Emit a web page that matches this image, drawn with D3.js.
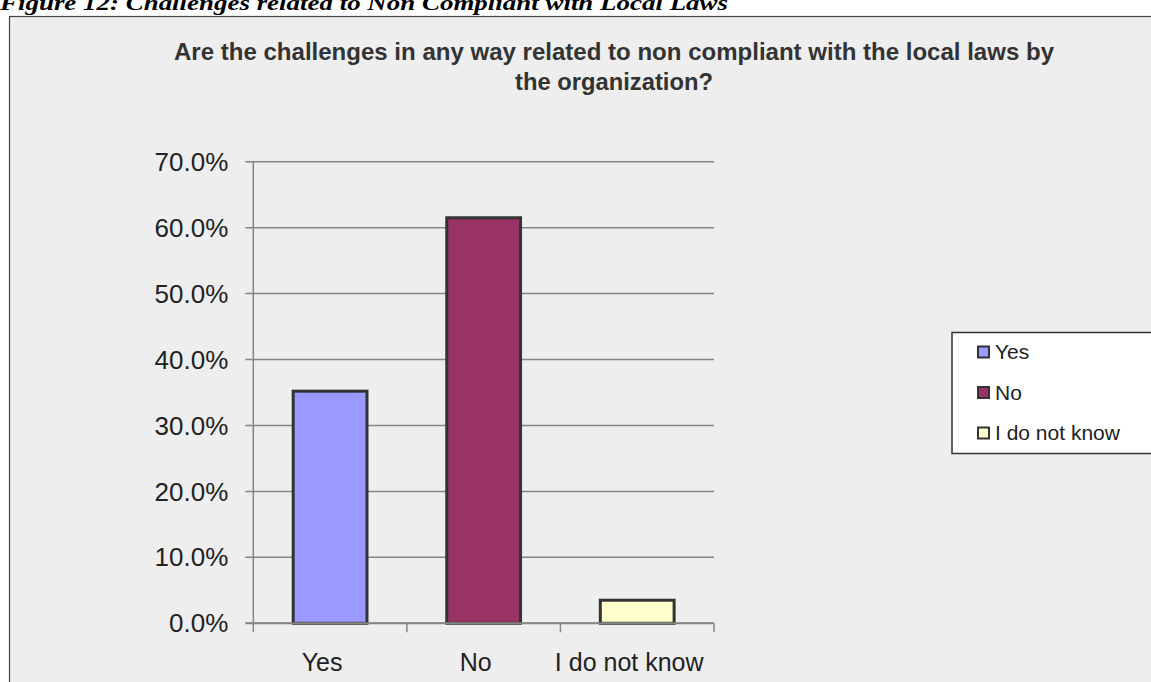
<!DOCTYPE html>
<html>
<head>
<meta charset="utf-8">
<script src="https://cdn.jsdelivr.net/npm/d3@7"></script>
<style>
  html, body { margin: 0; padding: 0; background: #ffffff; }
  svg { display: block; }
  text { font-family: "Liberation Sans", Arial, sans-serif; }
  text.caption { font-family: "Liberation Serif", "Times New Roman", serif; }
</style>
</head>
<body>
<svg id="chart" width="1151" height="682"></svg>
<script>
// Survey answers and their shares of respondents
const categories = ["Yes", "No", "I do not know"];
const shares = [0.352, 0.615, 0.035];
const barColors = ["#9999ff", "#993366", "#ffffcc"];
const yTicks = [0, 0.1, 0.2, 0.3, 0.4, 0.5, 0.6, 0.7];
const titleLines = [
  "Are the challenges in any way related to non compliant with the local laws by",
  "the organization?"
];
const caption = "Figure 12: Challenges related to Non Compliant with Local Laws";

const svg = d3.select("#chart");

// Document caption, running off the top of the page
svg.append("text")
  .attr("class", "caption")
  .attr("x", 0)
  .attr("y", 10)
  .attr("font-weight", "bold")
  .attr("font-style", "italic")
  .attr("font-size", 21)
  .attr("fill", "#000")
  .attr("textLength", 728)
  .attr("lengthAdjust", "spacingAndGlyphs")
  .text(caption);

// Chart frame
svg.append("rect")
  .attr("x", 9.5)
  .attr("y", 16.5)
  .attr("width", 1160)
  .attr("height", 700)
  .attr("fill", "#eeeeee")
  .attr("stroke", "#444")
  .attr("stroke-width", 1.2);

// Title
const titleWidths = [880, 198];
svg.append("g").selectAll("text")
  .data(titleLines)
  .join("text")
  .attr("x", 614)
  .attr("y", (d, i) => 60 + i * 30)
  .attr("text-anchor", "middle")
  .attr("font-weight", "bold")
  .attr("font-size", 24)
  .attr("fill", "#333")
  .attr("textLength", (d, i) => titleWidths[i])
  .attr("lengthAdjust", "spacingAndGlyphs")
  .text(d => d);

// Scales
const plotLeft = 253.3, plotRight = 714, plotTop = 161.7, plotBottom = 623.3;
const y = d3.scaleLinear().domain([0, 0.7]).range([plotBottom, plotTop]);
const x = d3.scaleBand().domain(categories).range([plotLeft, plotRight])
  .paddingInner(0.5).paddingOuter(0.25);
const xEdges = d3.scaleLinear().domain([0, categories.length]).range([plotLeft, plotRight]);

// Gridlines (extend left past the axis to act as ticks)
svg.append("g").selectAll("line")
  .data(yTicks)
  .join("line")
  .attr("x1", plotLeft - 8)
  .attr("x2", plotRight)
  .attr("y1", d => y(d))
  .attr("y2", d => y(d))
  .attr("stroke", "#868686")
  .attr("stroke-width", 1.5);

// Y tick labels
svg.append("g").selectAll("text")
  .data(yTicks)
  .join("text")
  .attr("x", plotLeft - 25)
  .attr("y", d => y(d))
  .attr("dy", "0.35em")
  .attr("text-anchor", "end")
  .attr("font-size", 26)
  .attr("fill", "#222")
  .text(d3.format(".1%"));

// Y axis line
svg.append("line")
  .attr("x1", plotLeft).attr("x2", plotLeft)
  .attr("y1", plotTop).attr("y2", plotBottom + 9)
  .attr("stroke", "#868686")
  .attr("stroke-width", 1.5);

// X axis tick marks at category boundaries
svg.append("g").selectAll("line")
  .data(d3.range(1, categories.length + 1))
  .join("line")
  .attr("x1", d => xEdges(d)).attr("x2", d => xEdges(d))
  .attr("y1", plotBottom).attr("y2", plotBottom + 9)
  .attr("stroke", "#868686")
  .attr("stroke-width", 1.5);

// Bars
const bars = categories.map((c, i) => ({ c, v: shares[i], color: barColors[i] }));
svg.append("g").selectAll("rect")
  .data(bars)
  .join("rect")
  .attr("x", d => x(d.c) + 1.5)
  .attr("width", x.bandwidth() - 3)
  .attr("y", d => y(d.v))
  .attr("height", d => plotBottom - y(d.v))
  .attr("fill", d => d.color)
  .attr("stroke", "#333")
  .attr("stroke-width", 3);

// X axis baseline drawn over the bar bottoms
svg.append("line")
  .attr("x1", plotLeft - 8).attr("x2", plotRight)
  .attr("y1", plotBottom).attr("y2", plotBottom)
  .attr("stroke", "#868686")
  .attr("stroke-width", 2);

// Category labels
svg.append("g").selectAll("text")
  .data(categories)
  .join("text")
  .attr("x", d => x(d) + x.bandwidth() / 2 - 8)
  .attr("y", 671)
  .attr("text-anchor", "middle")
  .attr("font-size", 25)
  .attr("fill", "#222")
  .text(d => d);

// Legend
const legend = svg.append("g");
legend.append("rect")
  .attr("x", 952)
  .attr("y", 332.5)
  .attr("width", 220)
  .attr("height", 121)
  .attr("fill", "#ffffff")
  .attr("stroke", "#333")
  .attr("stroke-width", 1.5);

const legendRows = legend.selectAll("g")
  .data(bars)
  .join("g")
  .attr("transform", (d, i) => `translate(978, ${352 + i * 40.5})`);

legendRows.append("rect")
  .attr("x", 0).attr("y", -5.5)
  .attr("width", 11).attr("height", 11)
  .attr("fill", d => d.color)
  .attr("stroke", "#333")
  .attr("stroke-width", 2);

legendRows.append("text")
  .attr("x", 17)
  .attr("dy", "0.35em")
  .attr("font-size", 21)
  .attr("fill", "#222")
  .text(d => d.c);
</script>
</body>
</html>
